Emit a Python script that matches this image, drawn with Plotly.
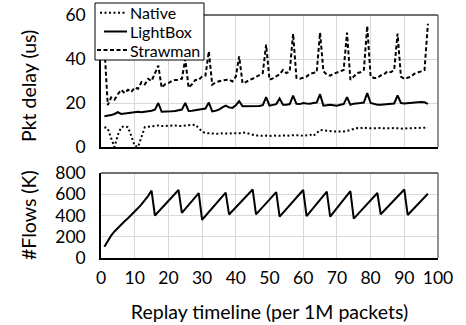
import plotly.graph_objects as go
from plotly.subplots import make_subplots

x_delay = list(range(1, 98))

native = [9, 8.5, 4, 0, 5.5, 9, 9.5, 9, 5, 0.5,
          0, 5, 9, 9.2, 9.5, 9.5, 9.8, 9.5, 9.6, 9.5,
          9.6, 9.8, 9.6, 9.5, 9.8, 9.8, 10, 10.2, 8.5, 7,
          6.3, 6.2, 6.2, 6.1, 6.0, 6.2, 6.0, 6.1, 6.3, 6.1,
          6.2, 6.6, 6.5, 6.0, 5.5, 5.2, 5.3, 5.0, 5.2, 5.0,
          5.2, 5.0, 5.1, 5.3, 5.0, 5.3, 5.3, 5.5, 5.4, 5.0,
          5.2, 5.6, 5.0, 6.5, 7.7, 7.6, 7.3, 7.0, 7.0, 7.1,
          6.9, 7.0, 7.3, 7.8, 8.0, 8.6, 8.5, 8.9, 8.5, 8.6,
          8.4, 8.5, 8.6, 8.5, 8.4, 8.5, 8.6, 8.4, 8.5, 8.3,
          8.5, 8.6, 8.4, 8.7, 8.8, 8.8, 8.8]

lightbox = [14, 14.2, 14.5, 15, 15.8, 15, 15.2, 15.3, 15.5, 15.5,
            16, 15.8, 16, 16.2, 16.5, 17, 20, 16, 16, 16.2,
            16.2, 16.4, 16.6, 17, 20, 16.4, 16.5, 16.8, 17, 17.2,
            17.5, 20.2, 16.2, 16.5, 17, 18, 18.8, 18, 17.8, 19,
            20.8, 18.5, 18.5, 18.5, 18.4, 18.5, 18.6, 19, 22.7, 18.8,
            19, 19.5, 22, 19.2, 19.2, 19.5, 23.3, 19.6, 19.5, 20,
            19.8, 19.7, 20, 20.2, 24, 18.8, 19, 19.2, 19, 18.8,
            19.2, 19.5, 22.7, 19.2, 19.7, 20, 20, 20.2, 24.5, 20,
            19.5, 19.2, 19.2, 19.3, 19.5, 19.5, 19.8, 23.5, 20, 19.8,
            20, 20, 20.2, 20.3, 20.4, 20.3, 19.6]

strawman = [46, 19, 22.5, 21.5, 24, 26, 24.5, 26, 25, 27,
            26.5, 29.5, 28.5, 31, 30, 33.5, 37, 27, 28.5, 29,
            30, 30.5, 30.5, 31, 40, 27, 28.5, 30.5, 30.5, 32,
            32.5, 43.5, 28.3, 29.4, 30, 30.3, 30.5, 30.6, 29.8, 32,
            41.2, 29, 29.5, 30.5, 31, 32, 33, 33.6, 46.5, 30.6,
            31.2, 32, 33, 35, 33.6, 34.4, 51.5, 31.4, 31, 31.5,
            32, 33.3, 33.5, 34, 52, 34.4, 32.9, 32.4, 33.3, 33.8,
            34.4, 35, 52, 30.6, 32, 33.6, 34, 35, 55, 32,
            31.4, 31.4, 32.5, 33, 34.4, 34, 35, 51.5, 32, 31,
            31.5, 32, 33.3, 34, 34.4, 35, 56]

x_flows = [1, 2, 3, 4, 5, 6, 7, 8, 9, 10, 11, 12, 13, 14, 15, 16,
           23, 24, 29, 30, 37, 38, 45, 46, 52, 53, 60, 61, 67, 68,
           74, 75, 82, 83, 90, 91, 97]
flows = [105, 165, 210, 250, 285, 315, 345, 375, 405, 435, 470, 505, 540, 585, 635, 400,
         640, 425, 610, 360, 615, 410, 645, 410, 620, 390, 640, 395, 625, 390,
         630, 370, 612, 412, 645, 405, 605]

x_ticks = list(range(0, 101, 10))
delay_ticks = [0, 20, 40, 60]
flow_ticks = [0, 200, 400, 600, 800]
series_names = ["Native", "LightBox", "Strawman"]

FONT = "Lato"
W, HT = 466, 325
ML, MR, MT, MB = 101, 28, 15, 67
PW = W - ML - MR
PH = HT - MT - MB


def px(xp):
    return (xp - ML) / PW


def py(yp):
    return (HT - MB - yp) / PH


fig = make_subplots(rows=2, cols=1, shared_xaxes=True, vertical_spacing=0.0)

styles = [dict(color="black", width=2, dash="2px,2.5px"),
          dict(color="black", width=2),
          dict(color="black", width=2, dash="4px,2.5px")]
for name, vals, st in zip(series_names, [native, lightbox, strawman], styles):
    fig.add_trace(go.Scatter(x=x_delay, y=vals, name=name, mode="lines",
                             line=st, showlegend=False, hoverinfo="skip"), row=1, col=1)
fig.add_trace(go.Scatter(x=x_flows, y=flows, name="Flows", mode="lines", showlegend=False,
                         hoverinfo="skip", line=dict(color="black", width=2)), row=2, col=1)

fig.update_layout(
    width=W, height=HT,
    margin=dict(l=ML, r=MR, t=MT, b=MB, autoexpand=False),
    paper_bgcolor="white", plot_bgcolor="white",
    font=dict(family=FONT, size=17.5, color="black"),
    showlegend=False,
)

fig.update_xaxes(range=[0, 100], tickvals=x_ticks, showgrid=True, gridcolor="#d9d9d9",
                 gridwidth=1, zeroline=False, showline=True, linecolor="black", linewidth=1.5,
                 ticks="")
fig.update_xaxes(showticklabels=False, row=1, col=1)
fig.update_xaxes(showticklabels=True, ticklabelstandoff=3, row=2, col=1,
                 title=dict(text="Replay timeline (per 1M packets)", standoff=19,
                            font=dict(size=19.5)))

fig.update_yaxes(showgrid=True, gridcolor="#d9d9d9", gridwidth=1, zeroline=False,
                 showline=True, linecolor="black", linewidth=1.5, ticks="",
                 ticklabelstandoff=10)
fig.update_yaxes(range=[0, 60], tickvals=delay_ticks, row=1, col=1,
                 domain=[py(147), 1.0])
fig.update_yaxes(range=[0, 800], tickvals=flow_ticks, row=2, col=1,
                 domain=[0, py(173)])

# gray frame top/right edges
for yr, xr in [("y domain", "x domain"), ("y2 domain", "x2 domain")]:
    fig.add_shape(type="line", xref=xr, yref=yr, x0=0, x1=1, y0=1, y1=1,
                  line=dict(color="#707070", width=2))
    fig.add_shape(type="line", xref=xr, yref=yr, x0=1, x1=1, y0=0, y1=1,
                  line=dict(color="#707070", width=1.5))

# y-axis titles
fig.add_annotation(text="Pkt delay (us)", textangle=-90, xref="paper", yref="paper",
                   x=px(28), y=py(86), xanchor="center", yanchor="middle",
                   showarrow=False, font=dict(family=FONT, size=19.5))
fig.add_annotation(text="#Flows (K)", textangle=-90, xref="paper", yref="paper",
                   x=px(28), y=py(215), xanchor="center", yanchor="middle",
                   showarrow=False, font=dict(family=FONT, size=19.5))

# custom legend box
fig.add_shape(type="rect", xref="paper", yref="paper", x0=px(95), x1=px(204),
              y0=py(60), y1=py(3), fillcolor="white", line=dict(color="black", width=1),
              layer="above")
leg_rows = [12.7, 31.5, 50.0]
leg_x0 = [100, 104, 97]
for name, st, yy, x0 in zip(series_names, styles, leg_rows, leg_x0):
    fig.add_shape(type="line", xref="paper", yref="paper", x0=px(x0), x1=px(127),
                  y0=py(yy), y1=py(yy), line=st, layer="above")
    fig.add_annotation(text=name, xref="paper", yref="paper", x=px(128), y=py(yy),
                       xanchor="left", yanchor="middle", showarrow=False,
                       font=dict(family=FONT, size=16))

fig.write_html("out.html", config={"displayModeBar": False},
               post_script="document.body.style.margin='0px';")
